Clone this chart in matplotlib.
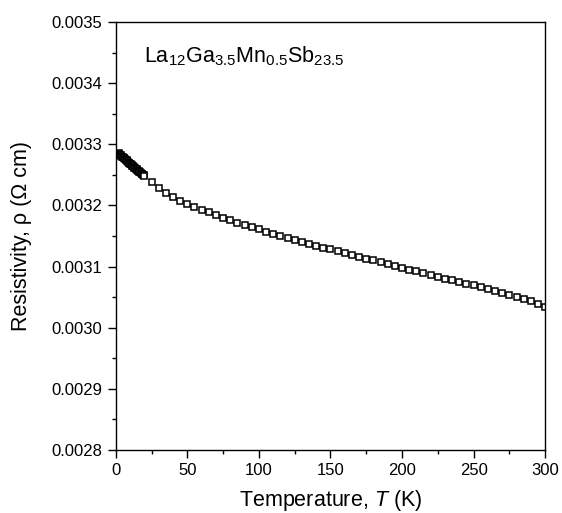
import numpy as np
import matplotlib.pyplot as plt
from matplotlib.ticker import MultipleLocator

plt.rcParams['font.family'] = ['Liberation Sans', 'DejaVu Sans']
plt.rcParams['mathtext.fontset'] = 'custom'
plt.rcParams['mathtext.rm'] = 'Liberation Sans'
plt.rcParams['mathtext.it'] = 'Liberation Sans:italic'

# low temperature data (dense)
T_low = [2.0, 2.5, 3.0, 3.5, 4.0, 4.5, 5.0, 5.5, 6.0, 6.5, 7.0, 7.5, 8.0, 8.5,
         9.0, 9.5, 10.0, 10.5, 11.0, 11.5, 12.0, 12.5, 13.0, 13.5, 14.0, 14.5,
         15.0, 15.5, 16.0, 16.5, 17.0, 17.5, 18.0, 18.5, 19.0, 19.5, 20.0]
rho_low = [0.003285, 0.003284, 0.003283, 0.003282, 0.003281, 0.003280, 0.003279,
           0.003278, 0.003277, 0.003276, 0.003275, 0.003274, 0.003272, 0.003271,
           0.003270, 0.003269, 0.003268, 0.003267, 0.003266, 0.003265, 0.003264,
           0.003263, 0.003262, 0.003261, 0.003260, 0.003259, 0.003258, 0.003257,
           0.003256, 0.003255, 0.003254, 0.003253, 0.003252, 0.003251, 0.003250,
           0.003249, 0.003248]

# high temperature data (every 5 K)
T_high = [25, 30, 35, 40, 45, 50, 55, 60, 65, 70, 75, 80, 85, 90, 95, 100,
          105, 110, 115, 120, 125, 130, 135, 140, 145, 150, 155, 160, 165, 170,
          175, 180, 185, 190, 195, 200, 205, 210, 215, 220, 225, 230, 235, 240,
          245, 250, 255, 260, 265, 270, 275, 280, 285, 290, 295, 300]
rho_high = [0.003238, 0.003229, 0.003221, 0.003214, 0.003208, 0.003203, 0.003198,
            0.003193, 0.003189, 0.003184, 0.003180, 0.003176, 0.003172, 0.003168,
            0.003165, 0.003161, 0.003157, 0.003154, 0.003150, 0.003147, 0.003143,
            0.003140, 0.003137, 0.003134, 0.003131, 0.003128, 0.003125, 0.003122,
            0.003119, 0.003116, 0.003113, 0.003110, 0.003107, 0.003104, 0.003101,
            0.003098, 0.003095, 0.003092, 0.003089, 0.003086, 0.003083, 0.003080,
            0.003078, 0.003075, 0.003072, 0.003069, 0.003066, 0.003063, 0.003060,
            0.003057, 0.003054, 0.003050, 0.003047, 0.003043, 0.003039, 0.003034]

fig = plt.figure(figsize=(5.62, 5.13), dpi=100)
ax = fig.add_axes([0.206, 0.123, 0.764, 0.834])

ax.plot(T_low, rho_low, 's', ms=5, mfc='white', mec='black', mew=1.1)
ax.plot(T_high, rho_high, 's', ms=5, mfc='white', mec='black', mew=1.1)

ax.set_xlim(0, 300)
ax.set_ylim(0.0028, 0.0035)
ax.xaxis.set_major_locator(MultipleLocator(50))
ax.xaxis.set_minor_locator(MultipleLocator(25))
ax.yaxis.set_major_locator(MultipleLocator(0.0001))
ax.yaxis.set_minor_locator(MultipleLocator(0.00005))
ax.yaxis.set_major_formatter(plt.FormatStrFormatter('%.4f'))
ax.tick_params(which='both', direction='out', top=False, right=False,
               labelsize=12, width=1)
ax.tick_params(which='major', length=6)
ax.tick_params(which='minor', length=3)
for s in ax.spines.values():
    s.set_linewidth(1)

ax.set_xlabel('Temperature, $T$ (K)', fontsize=15.5, labelpad=7)
ax.set_ylabel('Resistivity, ρ (Ω cm)', fontsize=15.5, labelpad=14)
ax.text(0.065, 0.905, r'La$_{12}$Ga$_{3.5}$Mn$_{0.5}$Sb$_{23.5}$',
        transform=ax.transAxes, fontsize=15.5)

fig.savefig('out.png', dpi=100)
